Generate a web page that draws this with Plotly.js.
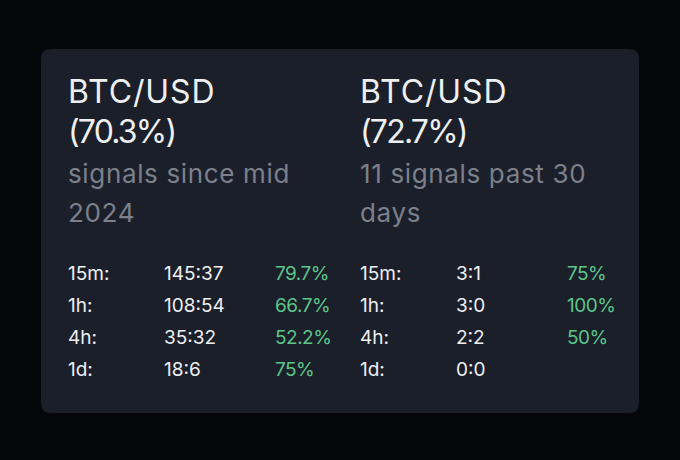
<!DOCTYPE html>
<html>
<head>
<meta charset="utf-8">
<script src="https://cdn.plot.ly/plotly-3.0.1.min.js"></script>
<style>
  html, body { margin: 0; padding: 0; background: #06070a; }
  #chart { width: 680px; height: 460px; }
</style>
</head>
<body>
<div id="chart"></div>
<script>
// ---- data ----
var pairs = ['BTC/USD', 'BTC/USD'];
var overall = ['(70.3%)', '(72.7%)'];
var subtitleLines = [['signals since mid', '2024'], ['11 signals past 30', 'days']];
var timeframes = ['15m:', '1h:', '4h:', '1d:'];
var ratioSince = ['145:37', '108:54', '35:32', '18:6'];
var pctSince = ['79.7%', '66.7%', '52.2%', '75%'];
var ratio30d = ['3:1', '3:0', '2:2', '0:0'];
var pct30d = ['75%', '100%', '50%', ''];

// ---- layout helpers ----
var FONT = 'Inter, Roboto, sans-serif';
var WHITE = '#eeeff1';
var GREY = '#7b808b';
var GREEN = '#5dc58a';

var panelX = [68, 360];
var colOffsets = [0, 96, 207];
var rowY = [273.5, 305.5, 337.5, 369.5];

var ann = [];
var spacing = [];
function add(x, y, text, size, color, ls) {
  ann.push({
    xref: 'x', yref: 'y', x: x, y: y, text: text,
    showarrow: false, xanchor: 'left', yanchor: 'middle', align: 'left',
    borderpad: 0, borderwidth: 0,
    font: {family: FONT, size: size, color: color}
  });
  spacing.push(ls || 0);
}

var ratios = [ratioSince, ratio30d];
var pcts = [pctSince, pct30d];
for (var p = 0; p < 2; p++) {
  var x0 = panelX[p];
  add(x0, 91, pairs[p], 32, WHITE, 0.9);
  add(x0, 131, overall[p], 32, WHITE, -1.8);
  add(x0, 173, subtitleLines[p][0], 26, GREY, 0.65);
  add(x0, 212, subtitleLines[p][1], 26, GREY, 0.65);
  for (var r = 0; r < timeframes.length; r++) {
    add(x0 + colOffsets[0], rowY[r], timeframes[r], 19, WHITE);
    add(x0 + colOffsets[1], rowY[r], ratios[p][r], 19, WHITE);
    if (pcts[p][r]) add(x0 + colOffsets[2], rowY[r], pcts[p][r], 19, GREEN, -0.5);
  }
}

// rounded card
function roundRect(x0, y0, x1, y1, rr) {
  return 'M' + (x0 + rr) + ',' + y0 + ' L' + (x1 - rr) + ',' + y0 +
    ' Q' + x1 + ',' + y0 + ' ' + x1 + ',' + (y0 + rr) +
    ' L' + x1 + ',' + (y1 - rr) +
    ' Q' + x1 + ',' + y1 + ' ' + (x1 - rr) + ',' + y1 +
    ' L' + (x0 + rr) + ',' + y1 +
    ' Q' + x0 + ',' + y1 + ' ' + x0 + ',' + (y1 - rr) +
    ' L' + x0 + ',' + (y0 + rr) +
    ' Q' + x0 + ',' + y0 + ' ' + (x0 + rr) + ',' + y0 + ' Z';
}

var layout = {
  width: 680, height: 460,
  margin: {l: 0, r: 0, t: 0, b: 0},
  paper_bgcolor: '#06070a',
  plot_bgcolor: '#06070a',
  showlegend: false,
  xaxis: {range: [0, 680], visible: false, fixedrange: true},
  yaxis: {range: [460, 0], visible: false, fixedrange: true},
  shapes: [{
    type: 'path', xref: 'x', yref: 'y',
    path: roundRect(41, 49, 639, 413, 10),
    fillcolor: '#1b1f2a', line: {width: 0}, layer: 'below'
  }],
  annotations: ann
};

Plotly.newPlot('chart', [{x: [], y: [], type: 'scatter', hoverinfo: 'skip'}], layout, {displayModeBar: false, staticPlot: true})
  .then(function (gd) {
    var nodes = gd.querySelectorAll('.annotation');
    nodes.forEach(function (g) {
      var i = +g.getAttribute('data-index');
      if (spacing[i]) {
        var t = g.querySelector('.annotation-text');
        if (t) t.style.letterSpacing = spacing[i] + 'px';
      }
    });
  });
</script>
</body>
</html>
